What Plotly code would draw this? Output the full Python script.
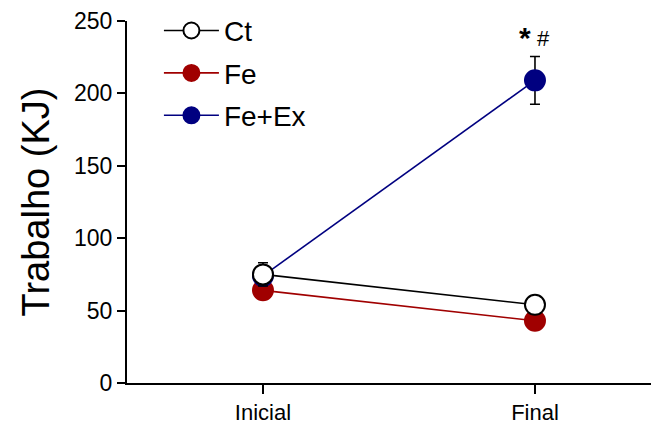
import plotly.graph_objects as go

categories = ["Inicial", "Final"]
x_pos = [0, 1]
ct_vals = [75, 54]
ct_err = [8, 3]
fe_vals = [64, 43]
fe_err = [4, 3]
feex_vals = [74, 209]
feex_err = [6, 16.5]
y_ticks = [0, 50, 100, 150, 200, 250]

FONT = "Liberation Sans, Arial, sans-serif"

fig = go.Figure()

def add(name, vals, err, color, fill, rank):
    fig.add_trace(go.Scatter(
        x=x_pos, y=vals, name=name, mode="lines+markers", legendgroup=name,
        line=dict(color=color, width=1.6),
        marker=dict(size=20, color=fill, line=dict(color=color, width=2)),
        error_y=dict(type="data", array=err, color="black", thickness=1.6, width=5),
        legendrank=rank,
    ))

add("Fe", fe_vals, fe_err, "#A00000", "#A00000", 2)
add("Fe+Ex", feex_vals, feex_err, "#000080", "#000080", 3)
add("Ct", ct_vals, ct_err, "black", "white", 1)

fig.add_annotation(x=1, y=241, xref="x", yref="y", text="<b>*</b>",
                   showarrow=False, font=dict(size=30, family=FONT, color="black"),
                   xanchor="center", yanchor="middle", xshift=-10, yshift=-3)
fig.add_annotation(x=1, y=238, xref="x", yref="y", text="#",
                   showarrow=False, font=dict(size=22, family=FONT, color="black"),
                   xanchor="center", yanchor="middle", xshift=9)

fig.update_layout(
    width=659, height=425,
    margin=dict(l=119, r=8, t=13, b=50, autoexpand=False),
    paper_bgcolor="white", plot_bgcolor="white",
    font=dict(family=FONT, size=22, color="black"),
    showlegend=True,
    legend=dict(x=0.06, y=1.042, xanchor="left", yanchor="top",
                font=dict(size=28, family=FONT), bgcolor="rgba(0,0,0,0)",
                tracegroupgap=3, itemwidth=55),
    xaxis=dict(
        tickmode="array", tickvals=x_pos, ticktext=categories,
        range=[-0.5, 1.456], showline=True, linecolor="black", linewidth=2,
        ticks="outside", ticklen=9, tickwidth=1.5, tickcolor="black",
        showgrid=False, zeroline=False, tickfont=dict(size=22),
    ),
    yaxis=dict(
        range=[0, 250], tickvals=y_ticks, showline=True, linecolor="black",
        linewidth=2, ticks="outside", ticklen=8, tickwidth=1.5, tickcolor="black",
        showgrid=False, zeroline=False, tickfont=dict(size=23),
        title=dict(text="Trabalho (KJ)", font=dict(size=38), standoff=13),
    ),
)

fig.write_html("out.html")
